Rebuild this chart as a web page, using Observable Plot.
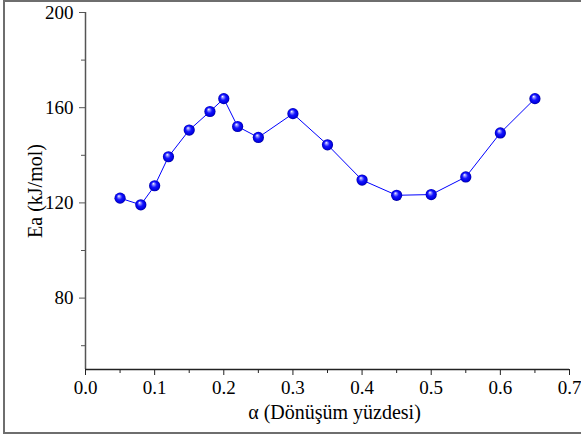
<!DOCTYPE html>
<html>
<head>
<meta charset="utf-8">
<script src="https://cdn.jsdelivr.net/npm/d3@7"></script>
<script src="https://cdn.jsdelivr.net/npm/@observablehq/plot@0.6"></script>
<style>
  html, body { margin: 0; padding: 0; background: #fff; }
  #wrap { position: relative; width: 581px; height: 441px; overflow: hidden; }
  #frame { position: absolute; left: 3px; top: 0; width: 600px; height: 434px;
           border: 2px solid #6e6e6e; box-sizing: border-box; pointer-events: none; }
</style>
</head>
<body>
<div id="wrap"><div id="chart"></div><div id="frame"></div></div>
<script>
// conversion fraction α and activation energy Ea (kJ/mol)
const alpha = [0.05, 0.08, 0.10, 0.12, 0.15, 0.18, 0.20, 0.22, 0.25, 0.30, 0.35, 0.40, 0.45, 0.50, 0.55, 0.60, 0.65];
const ea    = [122.0, 119.2, 127.2, 139.4, 150.6, 158.4, 163.8, 152.1, 147.5, 157.5, 144.4, 129.6, 123.2, 123.5, 130.9, 149.4, 163.8];

const xMajor = [0, 0.1, 0.2, 0.3, 0.4, 0.5, 0.6, 0.7];
const xMinor = [0.05, 0.15, 0.25, 0.35, 0.45, 0.55, 0.65];
const yMajor = [80, 120, 160, 200];
const yMinor = [60, 100, 140, 180];
const xTitle = "α (Dönüşüm yüzdesi)";
const yTitle = "Ea (kJ/mol)";

const serif = "Liberation Serif";
const data = alpha.map((a, i) => ({a, e: ea[i]}));

// shaded sphere fill for the markers
const sphereDefs = () => {
  const ns = "http://www.w3.org/2000/svg";
  const defs = document.createElementNS(ns, "defs");
  defs.innerHTML = `
    <radialGradient id="ball" cx="0.5" cy="0.5" r="0.5" fx="0.38" fy="0.3">
      <stop offset="0" stop-color="#ffffff"/>
      <stop offset="0.18" stop-color="#9a9aff"/>
      <stop offset="0.5" stop-color="#1515ff"/>
      <stop offset="0.85" stop-color="#0000e0"/>
      <stop offset="1" stop-color="#00009a"/>
    </radialGradient>`;
  return defs;
};

const chart = Plot.plot({
  width: 581,
  height: 441,
  marginLeft: 85,
  marginRight: 12,
  marginTop: 12,
  marginBottom: 72,
  style: {fontFamily: serif, fontSize: "19px", color: "#000", background: "transparent"},
  x: {domain: [0, 0.7], label: null},
  y: {domain: [50, 200], label: null},
  marks: [
    sphereDefs,
    // tick marks (labels are drawn separately as serif text)
    Plot.axisX({ticks: xMinor, tickSize: 4, text: null, label: null, stroke: "#222"}),
    Plot.axisX({ticks: xMajor, tickSize: 6, text: null, label: null, stroke: "#222"}),
    Plot.axisY({ticks: yMinor, tickSize: 4, text: null, label: null, stroke: "#555"}),
    Plot.axisY({ticks: yMajor, tickSize: 6, text: null, label: null, stroke: "#555"}),
    Plot.ruleX([0], {stroke: "#555", strokeWidth: 1.5}),
    Plot.ruleY([50], {stroke: "#222", strokeWidth: 1.5}),
    // tick labels
    Plot.text(xMajor, {x: d => d, frameAnchor: "bottom", lineAnchor: "middle", dy: 18, text: d3.format(".1f"),
                       fontFamily: serif, fontSize: 19, fill: "#000"}),
    Plot.text(yMajor, {y: d => d, frameAnchor: "left", lineAnchor: "middle", dx: -12, textAnchor: "end", text: d => String(d),
                       fontFamily: serif, fontSize: 19, fill: "#000"}),
    Plot.line(data, {x: "a", y: "e", stroke: "#0000ff", strokeWidth: 1}),
    Plot.dot(data, {x: "a", y: "e", r: 5.6, fill: "url(#ball)", stroke: "none"}),
    // axis titles, placed in the margins around the plot area
    Plot.text([xTitle], {frameAnchor: "bottom", lineAnchor: "middle", dy: 43, dx: 7, text: d => d,
                         fontFamily: serif, fontSize: 20, fill: "#000"}),
    Plot.text([yTitle], {frameAnchor: "left", lineAnchor: "middle", dx: -50, rotate: -90, textAnchor: "middle", text: d => d,
                         fontFamily: serif, fontSize: 20, fill: "#000"})
  ]
});
document.getElementById("chart").appendChild(chart);
</script>
</body>
</html>
